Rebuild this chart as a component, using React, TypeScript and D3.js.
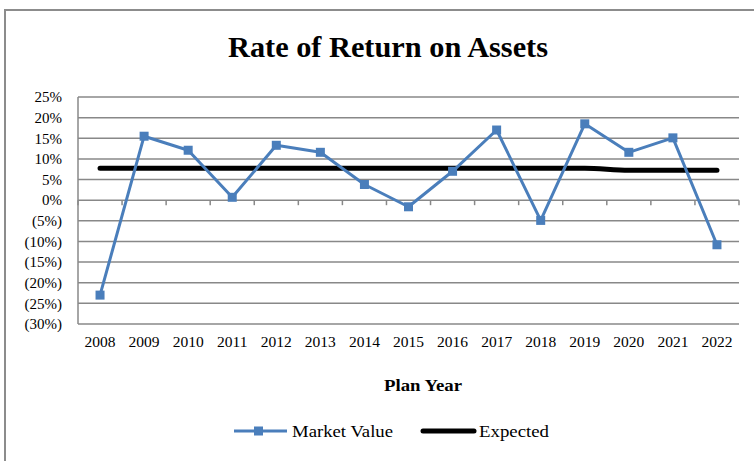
import * as d3 from "d3";

// chart data
const years = ["2008", "2009", "2010", "2011", "2012", "2013", "2014", "2015", "2016", "2017", "2018", "2019", "2020", "2021", "2022"];
const marketValue = [-23.0, 15.5, 12.1, 0.7, 13.3, 11.6, 3.8, -1.6, 7.0, 17.0, -4.9, 18.5, 11.6, 15.1, -10.8];
const expected = [7.75, 7.75, 7.75, 7.75, 7.75, 7.75, 7.75, 7.75, 7.75, 7.75, 7.75, 7.75, 7.25, 7.25, 7.25];
const yTicks = [25, 20, 15, 10, 5, 0, -5, -10, -15, -20, -25, -30];

const W = 754;
const H = 461;
const plot = { left: 78, right: 739, top: 97, bottom: 324 };
const FONT = "'Liberation Serif', 'Times New Roman', serif";
const BLUE = "#4a7ebb";
const GRID = "#888888";

function fmt(v: number) {
  if (v < 0) return `(${Math.abs(v)}%)`;
  return `${v}%`;
}

export default function App() {
  const x = d3.scaleBand().domain(years).range([plot.left, plot.right]);
  const y = d3.scaleLinear().domain([-30, 25]).range([plot.bottom, plot.top]);
  const cx = (d: string) => (x(d) ?? 0) + x.bandwidth() / 2;

  const mvLine = d3
    .line<number>()
    .x((_, i) => cx(years[i]))
    .y((d) => y(d));

  const expLine = d3
    .line<number>()
    .x((_, i) => cx(years[i]))
    .y((d) => y(d))
    .curve(d3.curveMonotoneX);

  const tickXs = years.map((d) => x(d) ?? 0).concat([plot.right]);

  return (
    <svg
      width={W}
      height={H}
      style={{ position: "absolute", left: 0, top: 0, background: "#fff" }}
      fontFamily={FONT}
    >
      <rect x={5} y={10} width={W + 10} height={H + 10} fill="#fff" stroke="#8c8c8c" strokeWidth={2} />

      <text x={388} y={57} textAnchor="middle" fontSize={30} fontWeight="bold" fill="#000" textLength={320} lengthAdjust="spacingAndGlyphs">
        Rate of Return on Assets
      </text>

      {/* gridlines */}
      {yTicks.map((t) => (
        <line key={t} x1={plot.left} x2={plot.right} y1={y(t)} y2={y(t)} stroke={GRID} strokeWidth={1.5} />
      ))}
      <line x1={plot.left} x2={plot.left} y1={plot.top} y2={plot.bottom} stroke={GRID} strokeWidth={1.5} />

      {/* x axis at 0 with tick marks */}
      {tickXs.map((tx, i) => (
        <line key={i} x1={tx} x2={tx} y1={y(0)} y2={y(0) + 5} stroke={GRID} strokeWidth={1.5} />
      ))}

      {yTicks.map((t) => (
        <text key={t} x={62} y={y(t)} dy="0.35em" textAnchor="end" fontSize={15} fill="#000">
          {fmt(t)}
        </text>
      ))}

      {years.map((d) => (
        <text key={d} x={cx(d)} y={347} textAnchor="middle" fontSize={15.5} fill="#000">
          {d}
        </text>
      ))}

      <text x={423} y={391} textAnchor="middle" fontSize={16} fontWeight="bold" fill="#000" textLength={78} lengthAdjust="spacingAndGlyphs">
        Plan Year
      </text>

      <path d={expLine(expected) ?? ""} fill="none" stroke="#000" strokeWidth={5} strokeLinecap="round" />
      <path d={mvLine(marketValue) ?? ""} fill="none" stroke={BLUE} strokeWidth={3} strokeLinejoin="round" />
      {marketValue.map((v, i) => (
        <rect key={i} x={cx(years[i]) - 4.5} y={y(v) - 4.5} width={9} height={9} fill={BLUE} />
      ))}

      {/* legend */}
      <line x1={234} x2={287} y1={431} y2={431} stroke={BLUE} strokeWidth={3} />
      <rect x={254} y={426.5} width={9} height={9} fill={BLUE} />
      <text x={292} y={437} fontSize={17} fill="#000" textLength={101} lengthAdjust="spacingAndGlyphs">
        Market Value
      </text>
      <line x1={423} x2={474} y1={431} y2={431} stroke="#000" strokeWidth={5} strokeLinecap="round" />
      <text x={479} y={437} fontSize={17} fill="#000" textLength={70} lengthAdjust="spacingAndGlyphs">
        Expected
      </text>
    </svg>
  );
}
